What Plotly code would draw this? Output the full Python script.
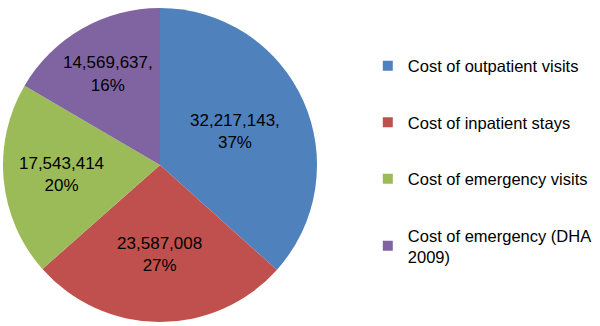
import plotly.graph_objects as go

labels = ["Cost of outpatient visits", "Cost of inpatient stays",
          "Cost of emergency visits", "Cost of emergency (DHA<br>2009)"]
values = [32217143, 23587008, 17543414, 14569637]
pct_labels = ["37%", "27%", "20%", "16%"]
separators = [",", "", "", ","]
colors = ["#4F81BD", "#C0504D", "#9BBB59", "#8064A2"]

texts = [f"{v:,}{s}<br>{p}" for v, s, p in zip(values, separators, pct_labels)]

fig = go.Figure()
fig.add_trace(go.Pie(
    labels=labels, values=values, text=texts, textinfo="text",
    textposition="inside", insidetextorientation="horizontal",
    sort=False, direction="clockwise", rotation=0,
    marker=dict(colors=colors, line=dict(width=0)),
    textfont=dict(family="Liberation Sans, Arial", size=17, color="black"),
    showlegend=False, hoverinfo="label+value+percent",
    domain=dict(x=[3/600, 317/600], y=[4/326, 318/326]),
))
for lab, col in zip(labels, colors):
    fig.add_trace(go.Scatter(
        x=[None], y=[None], mode="markers", name=lab, legendgroup=lab,
        marker=dict(symbol="square", size=10, color=col),
    ))

fig.update_layout(
    width=600, height=326,
    margin=dict(l=0, r=0, t=0, b=0, autoexpand=False),
    paper_bgcolor="white", plot_bgcolor="white",
    xaxis=dict(visible=False), yaxis=dict(visible=False),
    legend=dict(x=0.613, y=0.851, xanchor="left", yanchor="top",
                font=dict(family="Liberation Sans, Arial", size=16.5, color="black"),
                tracegroupgap=32, itemwidth=30),
    showlegend=True,
)
fig.write_html("out.html", config={"displayModeBar": False},
               post_script="document.body.style.margin='0';")
